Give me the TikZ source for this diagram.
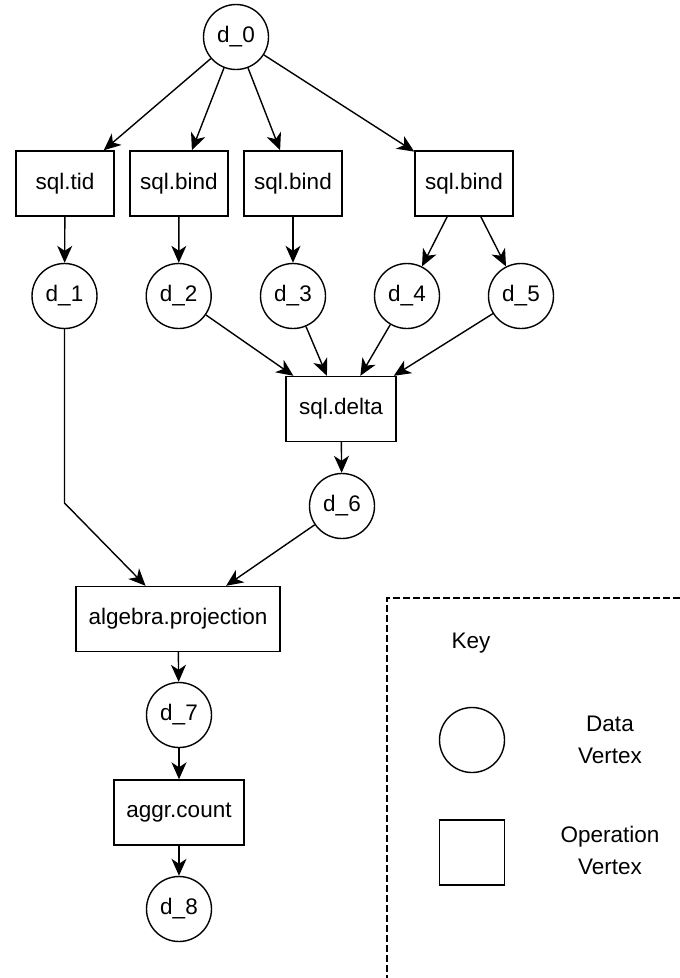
\documentclass[tikz,border=0pt]{standalone}
\usepackage{fontspec}
\setmainfont{Liberation Sans}
\usetikzlibrary{arrows.meta}
\begin{document}
\begin{tikzpicture}[x=1pt,y=-1pt,
  every node/.style={font=\fontsize{22.5}{32}\selectfont, text=black},
  datav/.style={draw, line width=1.4pt, circle, minimum size=65pt, inner sep=0pt},
  opv/.style={draw, line width=1.4pt, rectangle, minimum height=65pt, inner sep=0pt},
  edge/.style={line width=1.4pt, -{Stealth[length=17pt, width=15pt, inset=5pt]}},
  keyframe/.style={line width=1.4pt, dash pattern=on 7pt off 3pt}
]
\useasboundingbox (0,0) rectangle (680,978);

% data and operation vertices
\node[datav] (d0) at (236,37) {d\_0};
\node[opv, minimum width=98pt] (tid)   at (65,183.5)  {sql.tid};
\node[opv, minimum width=98pt] (bindA) at (179,183.5) {sql.bind};
\node[opv, minimum width=98pt] (bindB) at (293,183.5) {sql.bind};
\node[opv, minimum width=98pt] (bindC) at (464,183.5) {sql.bind};
\node[datav] (d1) at (64.5,296) {d\_1};
\node[datav] (d2) at (178.7,296) {d\_2};
\node[datav] (d3) at (293,296) {d\_3};
\node[datav] (d4) at (407,296) {d\_4};
\node[datav] (d5) at (521,296) {d\_5};
\node[opv, minimum width=110pt] (delta) at (341,409) {sql.delta};
\node[datav] (d6) at (342,506) {d\_6};
\node[opv, minimum width=204pt] (proj) at (178,619) {algebra.projection};
\node[datav] (d7) at (179,715) {d\_7};
\node[opv, minimum width=130pt] (count) at (179,812.5) {aggr.count};
\node[datav] (d8) at (179,909) {d\_8};
\coordinate (bend) at (64.5,503);

% connectors
\draw[edge] (d0) -- (tid);
\draw[edge] (d0) -- (bindA);
\draw[edge] (d0) -- (bindB);
\draw[edge] (d0) -- (bindC);
\draw[edge] (tid) -- (d1);
\draw[edge] (bindA) -- (d2);
\draw[edge] (bindB) -- (d3);
\draw[edge] (bindC) -- (d4);
\draw[edge] (bindC) -- (d5);
\draw[edge] (d2) -- (delta);
\draw[edge] (d3) -- (delta);
\draw[edge] (d4) -- (delta);
\draw[edge] (d5) -- (delta);
\draw[edge] (delta) -- (d6);
\draw[edge] (d1) -- (bend) -- (proj);
\draw[edge] (d6) -- (proj);
\draw[edge] (proj) -- (d7);
\draw[edge] (d7) -- (count);
\draw[edge] (count) -- (d8);

% legend
\draw[keyframe] (680,598) -- (387,598) -- (387,978);
\node (keytitle) at (471,643) {Key};
\node[datav] (keydata) at (472,740) {};
\node[opv, minimum width=65pt] (keyop) at (472,852.5) {};
\node[align=center] (keydatatext) at (610,740) {Data\\Vertex};
\node[align=center] (keyoptext) at (610,850) {Operation\\Vertex};
\end{tikzpicture}
\end{document}
